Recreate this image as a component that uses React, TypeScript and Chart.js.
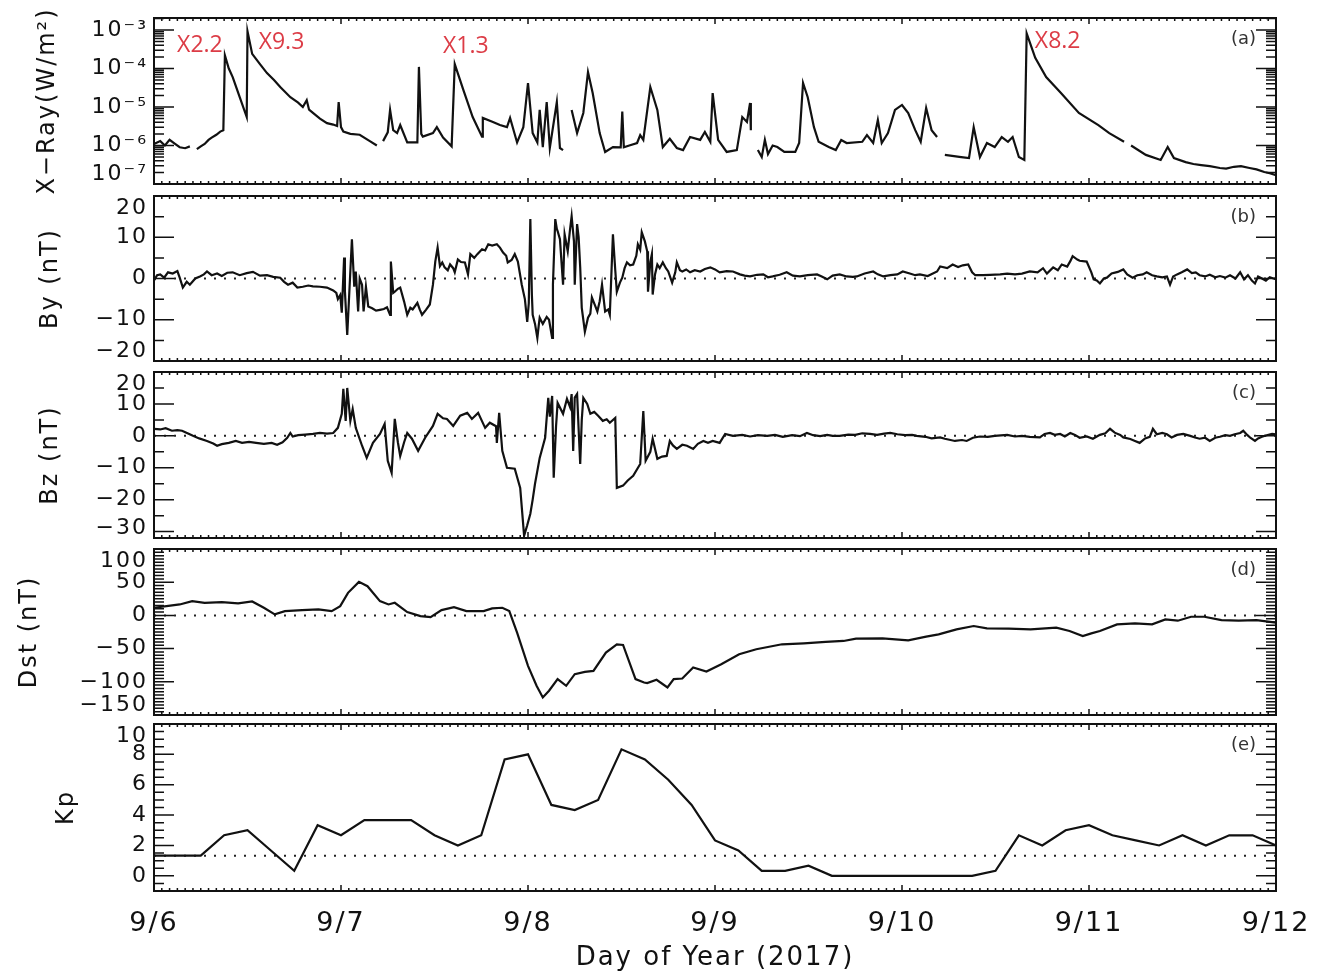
import React, { useEffect, useRef } from "react";
import { Chart, registerables } from "chart.js";

Chart.register(...registerables);

const W = 1318;
const H = 975;
const PLOT_LEFT = 154;
const PLOT_RIGHT = 1276;
const X_AXIS_HEIGHT = 84;
const FONT = "DejaVu Sans";
const INK = "#111111";
const FLARE_RED = "#dc3c46";

// Time axis: hours after 2017-09-06 00:00 UT
const dayHours = [0, 24, 48, 72, 96, 120, 144];
const dayLabels = ["9/6", "9/7", "9/8", "9/9", "9/10", "9/11", "9/12"];

// (a) GOES soft X-ray flux [hour, W/m^2]; null marks a data gap
const xrayFlux: [number, number | null][] = [
  [0, 1.1e-6], [0.8, 1.3e-6], [1.4, 1.0e-6], [2.0, 1.4e-6], [2.7, 1.1e-6], [3.3, 9.0e-7],
  [4.0, 8.5e-7], [4.6, 9.5e-7], [5.0, null],
  [5.5, 8.0e-7], [6.0, 9.5e-7], [6.5, 1.1e-6], [7.0, 1.4e-6], [7.4, 1.6e-6], [8.0, 1.9e-6],
  [8.5, 2.3e-6], [8.9, 2.5e-6], [9.1, 2.2e-4], [9.6, 1.0e-4], [10.1, 6.0e-5], [11.0, 1.8e-5],
  [11.9, 5.5e-6], [12.0, 9.3e-4], [12.6, 2.4e-4], [13.6, 1.3e-4], [14.5, 7.6e-5], [15.4, 5.0e-5],
  [16.2, 3.3e-5], [17.5, 1.8e-5], [18.5, 1.3e-5], [19.1, 1.0e-5], [19.6, 1.5e-5], [19.9, 8.5e-6],
  [20.4, 7.0e-6], [21.3, 5.0e-6], [22.2, 3.8e-6], [23.0, 3.5e-6], [23.5, 3.2e-6], [23.7, 1.35e-5],
  [24.0, 3.0e-6], [24.3, 2.3e-6], [25.2, 2.0e-6], [26.4, 1.9e-6], [27.7, 1.3e-6], [28.6, 1.0e-6],
  [29.0, null],
  [29.4, 1.3e-6], [30.0, 2.2e-6], [30.3, 8.4e-6], [30.7, 2.5e-6], [31.2, 2.1e-6], [31.6, 3.4e-6],
  [32.5, 1.2e-6], [33.8, 1.2e-6], [34.0, 1.1e-4], [34.3, 2.0e-6], [34.5, 1.7e-6], [35.8, 2.1e-6],
  [36.3, 3.0e-6], [37.1, 1.6e-6], [38.2, 9.5e-7], [38.6, 1.3e-4], [39.7, 2.8e-5], [40.9, 5.5e-6],
  [42.1, 1.7e-6], [42.2, 5.2e-6], [43.5, 4.1e-6], [44.4, 3.4e-6], [45.3, 3.0e-6], [45.7, 5.2e-6],
  [46.6, 1.2e-6], [47.4, 3.0e-6], [48.0, 4.2e-5], [48.6, 2.1e-6], [49.2, 1.2e-6], [49.5, 8.4e-6],
  [49.9, 9.0e-7], [50.4, 1.35e-5], [50.8, 8.6e-7], [51.7, 1.35e-5], [52.1, 8.6e-7], [52.5, 7.6e-7],
  [53.0, null],
  [53.6, 8.4e-6], [54.3, 2.1e-6], [55.1, 7.0e-6], [55.7, 8.1e-5], [56.3, 2.3e-5], [57.2, 2.1e-6],
  [57.9, 6.8e-7], [58.9, 9.1e-7], [59.9, 9.0e-7], [60.1, 7.6e-6], [60.3, 9.0e-7], [61.0, 1.0e-6],
  [62.0, 1.16e-6], [62.4, 1.87e-6], [62.8, 1.4e-6], [63.7, 3.3e-5], [64.6, 8.4e-6], [65.3, 9.1e-7],
  [66.2, 1.5e-6], [67.1, 8.6e-7], [67.9, 7.6e-7], [68.8, 1.66e-6], [70.1, 1.4e-6], [70.7, 2.24e-6],
  [71.4, 1.25e-6], [71.7, 2.3e-5], [72.4, 1.4e-6], [73.5, 6.8e-7], [74.8, 7.6e-7], [75.5, 5.5e-6],
  [76.1, 4.1e-6], [76.5, 1.27e-5], [76.6, 2.5e-6], [77.0, null],
  [77.5, 7.6e-7], [78.0, 5.0e-7], [78.4, 1.4e-6], [78.8, 6.0e-7], [79.4, 1.0e-6], [80.0, 9.1e-7],
  [80.9, 6.8e-7], [82.3, 6.8e-7], [82.8, 1.16e-6], [83.3, 4.2e-5], [83.9, 1.8e-5], [84.7, 3.0e-6],
  [85.3, 1.25e-6], [86.6, 9.1e-7], [87.5, 7.6e-7], [88.2, 1.39e-6], [88.9, 1.16e-6], [90.9, 1.25e-6],
  [91.5, 1.87e-6], [92.3, 1.16e-6], [92.9, 4.6e-6], [93.4, 1.16e-6], [94.2, 2.1e-6], [95.1, 8.4e-6],
  [96.0, 1.13e-5], [96.8, 7.0e-6], [97.7, 2.5e-6], [98.4, 1.25e-6], [99.1, 9.4e-6], [99.8, 2.5e-6],
  [100.5, 1.66e-6], [101.0, null],
  [101.5, 5.7e-7], [103.6, 5.0e-7], [104.6, 4.7e-7], [105.2, 3.0e-6], [106.0, 5.0e-7], [106.9, 1.16e-6],
  [107.9, 9.1e-7], [108.8, 1.66e-6], [109.6, 1.25e-6], [110.2, 1.66e-6], [111.0, 5.0e-7], [111.7, 4.2e-7],
  [112.0, 8.2e-4], [113.1, 1.9e-4], [114.5, 6.0e-5], [116.4, 2.3e-5], [118.7, 7.0e-6], [121.2, 3.4e-6],
  [122.6, 2.1e-6], [124.5, 1.25e-6], [125.0, null],
  [125.4, 1.0e-6], [127.3, 5.7e-7], [129.2, 4.2e-7], [130.1, 9.1e-7], [130.9, 4.7e-7], [132.4, 3.7e-7],
  [133.4, 3.3e-7], [134.4, 3.1e-7], [135.5, 2.9e-7], [136.8, 2.6e-7], [137.6, 2.5e-7], [138.6, 2.8e-7],
  [139.5, 2.9e-7], [140.6, 2.6e-7], [141.5, 2.4e-7], [142.5, 2.05e-7], [143.2, 1.9e-7], [144.0, 1.7e-7],
];

// Flare classes marked on panel (a)
const flareNames = ["X2.2", "X9.3", "X1.3", "X8.2"];
const flareHours = [9.1, 12.0, 38.6, 112.0];
const flareFlux = [2.2e-4, 9.3e-4, 1.3e-4, 8.2e-4];

// (b) IMF By [hour, nT]
const byField: [number, number][] = [
  [0, -0.5], [0.4, 0.8], [0.8, 1.0], [1.3, 0.2], [1.8, 1.5], [2.4, 1.2], [3.0, 1.8], [3.3, 0.2],
  [3.7, -2.2], [4.2, -0.8], [4.6, -1.5], [5.3, 0.0], [5.9, 0.5], [6.4, 1.0], [6.8, 1.7], [7.4, 0.8],
  [8.1, 1.2], [8.7, 0.6], [9.4, 1.4], [10.1, 1.5], [11.0, 0.8], [11.9, 1.3], [12.7, 1.6], [13.6, 0.7],
  [14.5, 0.8], [15.3, 0.4], [16.2, 0.2], [16.7, -0.8], [17.2, -1.5], [17.8, -1.0], [18.4, -2.2],
  [19.1, -2.0], [19.8, -1.7], [20.4, -1.9], [21.3, -2.0], [22.2, -2.2], [23.0, -2.9], [23.4, -3.5],
  [23.6, -5.0], [23.9, -4.0], [24.1, -8.3], [24.4, 5.1], [24.5, -3.0], [24.8, -13.7], [25.0, -6.0],
  [25.4, 9.5], [25.7, -2.0], [25.9, 1.7], [26.2, -8.0], [26.4, 0.0], [26.7, -1.5], [26.9, -8.0],
  [27.2, -2.0], [27.5, -6.8], [28.0, -7.2], [28.5, -7.8], [29.0, -7.6], [29.5, -7.4], [29.9, -7.0],
  [30.3, -8.8], [30.4, 4.1], [30.7, -3.5], [30.9, -3.2], [31.3, -2.5], [31.6, -2.2], [32.1, -5.6],
  [32.5, -8.8], [32.9, -7.1], [33.2, -7.5], [33.8, -5.9], [34.1, -7.5], [34.4, -8.8], [34.9, -7.6],
  [35.4, -6.3], [35.8, -1.5], [36.1, 4.1], [36.4, 7.5], [36.7, 3.0], [37.0, 3.9], [37.3, 2.7],
  [37.7, 2.0], [38.0, 3.4], [38.4, 2.5], [38.6, 1.5], [39.0, 4.6], [39.4, 4.0], [39.9, 3.9],
  [40.3, 1.0], [40.6, 5.9], [41.1, 5.0], [41.5, 5.9], [42.1, 7.1], [42.5, 6.8], [42.9, 8.3],
  [43.4, 8.0], [44.0, 8.3], [44.4, 7.5], [44.8, 6.3], [45.2, 5.5], [45.4, 3.9], [45.9, 4.5],
  [46.3, 5.9], [46.7, 4.1], [47.2, -1.5], [47.6, -5.0], [47.9, -10.5], [48.1, -6.0], [48.3, 14.4],
  [48.5, -4.0], [48.6, -8.8], [48.9, -11.0], [49.2, -14.4], [49.4, -11.0], [49.5, -9.5], [49.9, -11.0],
  [50.4, -9.3], [50.7, -10.0], [51.1, -14.4], [51.2, -1.5], [51.5, 14.4], [51.7, 12.0], [51.8, 11.5],
  [52.1, 9.5], [52.5, -1.5], [52.7, 10.7], [53.1, 6.6], [53.4, 12.0], [53.6, 15.1], [53.9, 9.0],
  [54.0, -1.5], [54.3, 13.2], [54.5, 10.0], [54.7, 2.7], [54.9, -7.1], [55.3, -12.9], [55.7, -9.5],
  [56.0, -8.5], [56.2, -4.6], [56.6, -6.5], [56.9, -8.0], [57.2, -5.5], [57.5, -1.5], [57.9, -8.0],
  [58.3, -7.5], [58.5, -8.8], [58.9, 10.7], [59.2, 2.0], [59.4, -3.2], [59.8, -1.0], [60.1, 0.2],
  [60.4, 2.5], [60.7, 3.9], [61.1, 3.2], [61.5, 3.4], [61.9, 5.5], [62.1, 8.3], [62.4, 7.0],
  [62.6, 11.2], [63.0, 9.0], [63.3, 6.6], [63.4, -3.2], [63.7, 4.0], [63.9, 5.9], [64.0, -3.9],
  [64.3, 1.0], [64.6, 3.4], [64.9, 2.5], [65.3, 3.9], [65.7, 2.5], [66.0, 1.7], [66.5, -1.0],
  [66.9, 1.5], [67.1, 3.9], [67.5, 2.0], [67.8, 1.7], [68.3, 2.2], [68.8, 1.5], [69.4, 2.0],
  [70.1, 1.7], [70.7, 2.3], [71.4, 2.7], [72.0, 2.2], [72.6, 1.5], [73.5, 1.8], [74.3, 1.7],
  [75.2, 1.0], [75.8, 0.7], [76.5, 0.5], [77.4, 0.9], [78.2, 1.0], [78.8, 0.3], [79.4, 0.5],
  [80.3, 0.9], [81.2, 1.5], [82.0, 0.7], [82.9, 0.5], [83.9, 0.8], [85.1, 1.0], [85.7, 0.5],
  [86.4, -0.2], [87.1, 0.7], [88.0, 1.0], [88.9, 0.5], [89.7, 0.4], [90.2, 0.5], [91.2, 1.2],
  [92.3, 1.7], [92.9, 1.0], [93.6, 0.5], [94.5, 0.8], [95.4, 1.0], [96.1, 1.7], [97.0, 1.2],
  [97.7, 0.8], [98.3, 1.0], [99.3, 0.6], [100.5, 1.7], [100.9, 2.9], [101.8, 2.5], [102.5, 3.4],
  [103.2, 2.8], [103.8, 3.2], [104.5, 3.4], [105.0, 1.5], [105.4, 0.8], [106.4, 0.8], [107.3, 0.9],
  [108.6, 1.0], [109.5, 1.2], [110.5, 1.0], [111.4, 1.2], [112.4, 1.7], [113.4, 1.5], [114.1, 2.5],
  [114.6, 1.2], [115.4, 2.7], [116.0, 2.0], [116.5, 3.4], [117.2, 2.9], [117.6, 4.2], [117.9, 5.4],
  [118.5, 4.6], [118.8, 4.3], [119.7, 4.1], [120.3, 1.5], [120.6, -0.2], [121.0, -0.5], [121.4, -1.2],
  [121.9, 0.0], [122.3, 0.2], [122.9, 1.2], [123.7, 1.6], [124.4, 2.2], [124.9, 1.0], [125.6, 0.2],
  [126.2, 0.8], [126.9, 1.0], [127.4, 1.5], [128.1, 0.8], [128.7, 0.5], [129.4, 0.3], [130.0, 0.5],
  [130.4, -1.5], [130.8, 0.5], [131.3, 1.0], [131.9, 1.5], [132.6, 2.2], [133.2, 1.3], [133.7, 1.5],
  [134.2, 0.8], [134.9, 0.5], [135.5, 0.9], [136.2, 0.3], [136.8, 0.6], [137.5, 0.2], [138.1, 0.8],
  [138.8, 0.0], [139.4, 1.5], [139.9, -0.2], [140.4, 0.8], [140.9, -0.5], [141.3, -1.2], [141.7, 0.5],
  [142.2, 0.0], [142.7, -0.5], [143.2, 0.3], [144.0, -0.2],
];

// (c) IMF Bz [hour, nT]
const bzField: [number, number][] = [
  [0, 2.2], [0.8, 2.0], [1.5, 2.4], [2.3, 1.6], [3.0, 1.8], [3.6, 1.6], [4.3, 0.8], [5.0, 0.0],
  [5.8, -0.8], [6.8, -1.6], [7.6, -2.4], [8.1, -3.1], [8.7, -2.6], [9.6, -2.2], [10.5, -1.6],
  [11.3, -2.2], [12.2, -1.9], [13.1, -2.2], [14.1, -2.5], [15.1, -2.2], [15.8, -2.8], [16.5, -2.0],
  [17.1, -0.6], [17.5, 0.9], [17.8, -0.2], [18.5, 0.2], [19.4, 0.4], [20.4, 0.6], [21.3, 0.9],
  [22.2, 0.7], [23.0, 0.9], [23.6, 2.5], [24.1, 6.9], [24.3, 14.7], [24.6, 4.7], [24.8, 15.0],
  [25.2, 4.7], [25.5, 8.4], [25.9, 2.5], [26.7, -3.1], [27.3, -6.9], [28.1, -2.2], [29.0, 0.6],
  [29.6, 3.7], [30.0, -7.8], [30.5, -11.6], [30.9, 5.3], [31.3, -2.0], [31.6, -6.3], [32.1, -2.0],
  [32.5, 0.9], [33.1, -0.9], [33.9, -4.7], [34.8, -0.6], [35.8, 3.1], [36.4, 6.9], [37.1, 5.5],
  [37.6, 5.3], [38.4, 3.1], [39.3, 6.3], [40.2, 7.2], [40.8, 5.3], [41.6, 7.2], [42.5, 2.5],
  [43.1, 4.1], [43.9, 3.0], [44.0, -2.2], [44.3, 7.2], [44.7, -4.7], [45.3, -10.0], [46.3, -10.3],
  [47.0, -16.3], [47.5, -31.3], [47.9, -28.0], [48.3, -24.4], [48.6, -20.0], [48.9, -15.0],
  [49.5, -6.9], [50.2, -0.6], [50.6, 11.9], [50.8, 6.0], [51.1, 12.5], [51.3, -13.1], [51.6, 3.0],
  [51.8, 10.3], [52.5, 6.9], [53.0, 11.6], [53.4, 9.0], [53.6, 13.1], [53.8, -4.7], [54.0, 12.0],
  [54.3, 13.1], [54.5, 2.0], [54.7, -8.8], [54.9, 5.0], [55.1, 11.9], [55.6, 10.0], [56.0, 6.9],
  [56.5, 7.5], [57.0, 6.3], [57.6, 4.7], [58.1, 5.2], [58.5, 4.1], [59.2, 5.6], [59.4, -16.3],
  [60.2, -15.6], [60.8, -14.0], [61.5, -12.5], [62.4, -8.8], [62.8, 7.8], [63.1, -7.8], [63.7, -5.0],
  [64.0, -0.9], [64.6, -7.2], [65.2, -6.5], [65.8, -6.3], [66.2, -1.6], [66.6, -3.0], [67.1, -4.1],
  [67.8, -2.8], [68.4, -3.1], [69.2, -4.1], [69.8, -2.5], [70.5, -1.6], [71.1, -2.2], [71.7, -1.6],
  [72.6, -2.2], [73.3, 0.6], [74.3, 0.0], [75.5, 0.3], [76.5, -0.2], [77.5, 0.2], [78.7, 0.0],
  [79.7, 0.3], [80.7, -0.3], [81.9, 0.2], [82.9, -0.1], [83.8, 0.9], [84.6, 0.2], [85.5, -0.1],
  [86.4, 0.3], [87.1, 0.0], [88.0, 0.0], [89.1, 0.4], [90.0, 0.3], [90.9, 0.8], [91.9, 0.6],
  [92.8, 0.3], [93.7, 0.7], [94.5, 0.9], [95.4, 0.5], [96.4, 0.2], [97.3, 0.3], [97.9, 0.0],
  [99.0, -0.3], [99.8, -0.8], [100.9, -0.5], [101.5, -0.9], [102.8, -1.6], [103.7, -1.3], [104.3, -1.6],
  [105.1, -0.6], [106.0, -0.2], [107.0, -0.3], [107.9, 0.0], [109.5, 0.3], [110.5, -0.2], [111.4, 0.0],
  [112.4, -0.3], [113.7, -0.5], [114.3, 0.6], [115.0, 0.9], [115.6, 0.3], [116.3, 0.6], [116.9, -0.2],
  [117.6, 0.9], [118.2, 0.3], [118.8, -0.6], [119.7, -0.2], [120.5, -0.9], [121.4, 0.3], [122.1, 0.8],
  [122.7, 2.2], [123.3, 1.0], [124.0, 0.3], [124.4, -0.5], [125.3, -1.0], [125.9, -1.6], [126.5, -2.2],
  [127.2, -0.8], [127.8, -0.3], [128.2, 2.2], [128.7, 0.5], [129.4, 0.9], [130.0, 0.5], [130.6, -0.5],
  [131.3, 0.3], [132.1, 0.6], [133.0, 0.0], [133.6, -0.5], [134.2, -0.9], [134.9, -0.6], [135.5, -1.6],
  [136.2, -0.6], [136.8, -0.3], [137.5, 0.2], [138.1, 0.0], [138.7, 0.5], [139.4, 0.9], [139.8, 1.6],
  [140.3, 0.3], [140.7, -0.6], [141.3, -1.6], [141.7, -0.8], [142.2, -0.3], [142.8, 0.2], [143.5, 0.6],
  [144.0, 0.5],
];

// (d) Dst index [hour, nT]
const dstIndex: [number, number][] = [
  [0, 11.5], [1.6, 14], [3.3, 16.5], [4.9, 21.5], [6.5, 19], [8.7, 20], [10.8, 18], [12.6, 21],
  [14.1, 11.5], [15.5, 1.5], [16.8, 6.5], [19.0, 8], [21.1, 9], [22.8, 6.5], [23.9, 14], [24.9, 34],
  [26.3, 50.5], [27.4, 44], [29.0, 21.5], [30.1, 16.5], [30.9, 19], [32.5, 5], [34.2, -1], [35.5, -2.5],
  [36.9, 8], [38.5, 12.5], [40.1, 6.5], [42.3, 6.5], [43.4, 10.5], [44.7, 11.5], [45.6, 6.5],
  [46.6, -26], [48.0, -76], [49.1, -106], [49.9, -123.5], [50.7, -113.5], [51.8, -96], [52.9, -106],
  [54.0, -88.5], [55.3, -85], [56.4, -83.5], [58.0, -56], [59.4, -43.5], [60.2, -44.5], [61.8, -96],
  [62.9, -101], [63.3, -102], [64.5, -97], [65.9, -108.5], [66.7, -96], [67.8, -95], [69.2, -78.5],
  [70.9, -84.5], [72.8, -73.5], [75.1, -58.5], [77.3, -51], [80.6, -43.5], [83.4, -42], [86.2, -40],
  [88.5, -38.5], [90.1, -35], [93.5, -34.5], [96.8, -37.5], [99.1, -32], [100.7, -28.5], [103.0, -21],
  [105.2, -16], [106.9, -19.5], [109.7, -20], [112.5, -21], [115.8, -18.5], [117.5, -23.5], [119.2, -31],
  [120.3, -27], [121.4, -23.5], [123.6, -13.5], [125.9, -12], [128.1, -13.5], [129.8, -6], [131.4, -8],
  [133.1, -2], [134.8, -2], [137.0, -7], [139.2, -8], [141.5, -7], [144.0, -11],
];

// (e) 3-hourly Kp index [hour, Kp]
const kpIndex: [number, number][] = [
  [0, 1.33], [3, 1.33], [6, 1.33], [9, 2.67], [12, 3.0], [15, 1.67], [18, 0.33], [21, 3.33],
  [24, 2.67], [27, 3.67], [30, 3.67], [33, 3.67], [36, 2.67], [39, 2.0], [42, 2.67], [45, 7.67],
  [48, 8.0], [51, 4.67], [54, 4.33], [57, 5.0], [60, 8.33], [63, 7.67], [66, 6.33], [69, 4.67],
  [72, 2.33], [75, 1.67], [78, 0.33], [81, 0.33], [84, 0.67], [87, 0.0], [90, 0.0], [93, 0.0],
  [96, 0.0], [99, 0.0], [102, 0.0], [105, 0.0], [108, 0.33], [111, 2.67], [114, 2.0], [117, 3.0],
  [120, 3.33], [123, 2.67], [126, 2.33], [129, 2.0], [132, 2.67], [135, 2.0], [138, 2.67], [141, 2.67],
  [144, 2.0],
];
const kpReference = 1.33;

// Axis tick values and labels
const xrayTickValues = [1e-7, 1e-6, 1e-5, 1e-4, 1e-3];
const xrayTickLabels = ["10\u207B\u2077", "10\u207B\u2076", "10\u207B\u2075", "10\u207B\u2074", "10\u207B\u00B3"];
const byTicks = [-20, -10, 0, 10, 20];
const bzTicks = [-30, -20, -10, 0, 10, 20];
const dstTicks = [-150, -100, -50, 0, 50, 100];
const kpTicks = [0, 2, 4, 6, 8, 10];

// Flare label placement relative to each peak, in pixels
const flareLabelOffsets: [number, number][] = [[-25, -10], [34, 11], [11, -18], [31, 8]];

function steps(from: number, to: number, step: number) {
  const out: number[] = [];
  for (let v = from; v <= to + 1e-9; v += step) out.push(+v.toFixed(6));
  return out;
}

function logMinorTicks(maxValue: number) {
  const out: number[] = [];
  for (let e = -7; e <= -3; e++) {
    for (let k = 2; k <= 9; k++) {
      const v = k * Math.pow(10, e);
      if (v <= maxValue) out.push(v);
    }
  }
  return out;
}

function signed(v: number) {
  return v < 0 ? "\u2212" + Math.abs(v) : String(v);
}

function series(points: [number, number | null][]) {
  return {
    data: points.map(([x, y]) => ({ x, y })),
    borderColor: INK,
    borderWidth: 2.2,
    pointRadius: 0,
    tension: 0,
    spanGaps: false,
  };
}

function referenceLine(level: number) {
  return {
    data: [{ x: 0, y: level }, { x: 144, y: level }],
    borderColor: "#222222",
    borderWidth: 2,
    borderDash: [2, 8],
    pointRadius: 0,
  };
}

// Frame, inward ticks on all four sides and the panel tag
function panelDecor(tag: string, majors: number[], minors: number[], extra?: (chart: any) => void) {
  return {
    id: "panelDecor",
    beforeDraw(chart: any) {
      chart.ctx.letterSpacing = "2px";
      // keep the end labels of the value axis inside the frame height
      const a = chart.chartArea;
      const items = chart.scales.y.getLabelItems(a);
      items.forEach((it: any) => {
        const t = it.options.translation;
        if (t[1] < a.top + 9) t[1] = a.top + 12;
        else if (t[1] > a.bottom - 9) t[1] = a.bottom - 10;
      });
    },
    afterDraw(chart: any) {
      const ctx = chart.ctx;
      const a = chart.chartArea;
      const xs = chart.scales.x;
      const ys = chart.scales.y;
      ctx.save();
      ctx.letterSpacing = "0px";
      ctx.strokeStyle = INK;
      ctx.lineWidth = 1.5;
      ctx.beginPath();
      const yTick = (v: number, len: number) => {
        const py = ys.getPixelForValue(v);
        if (py < a.top - 0.5 || py > a.bottom + 0.5) return;
        ctx.moveTo(a.left, py);
        ctx.lineTo(a.left + len, py);
        ctx.moveTo(a.right, py);
        ctx.lineTo(a.right - len, py);
      };
      majors.forEach((v) => yTick(v, 20));
      minors.forEach((v) => yTick(v, 10));
      for (let h = 0; h <= 144; h += 1) {
        const px = xs.getPixelForValue(h);
        const len = h % 24 === 0 ? 6 : 3;
        ctx.moveTo(px, a.top);
        ctx.lineTo(px, a.top + len);
        ctx.moveTo(px, a.bottom);
        ctx.lineTo(px, a.bottom - len);
      }
      ctx.stroke();
      ctx.lineWidth = 2;
      ctx.strokeRect(a.left, a.top, a.right - a.left, a.bottom - a.top);
      ctx.font = `18px "${FONT}"`;
      ctx.fillStyle = "#333333";
      ctx.textAlign = "right";
      ctx.textBaseline = "middle";
      ctx.fillText(tag, a.right - 20, a.top + 21);
      if (extra) extra(chart);
      ctx.restore();
    },
  };
}

function drawFlareLabels(chart: any) {
  const ctx = chart.ctx;
  const xs = chart.scales.x;
  const ys = chart.scales.y;
  ctx.font = `23px "Open Sans"`;
  ctx.fillStyle = FLARE_RED;
  ctx.textAlign = "center";
  ctx.textBaseline = "middle";
  flareNames.forEach((name, i) => {
    const [dx, dy] = flareLabelOffsets[i];
    ctx.fillText(name, xs.getPixelForValue(flareHours[i]) + dx, ys.getPixelForValue(flareFlux[i]) + dy);
  });
}

function xScale(show: boolean) {
  return {
    type: "linear",
    min: 0,
    max: 144,
    display: show,
    afterBuildTicks: (s: any) => {
      s.ticks = dayHours.map((v) => ({ value: v }));
    },
    afterFit: show
      ? (s: any) => {
          s.height = X_AXIS_HEIGHT;
          s.paddingLeft = 0;
          s.paddingRight = 0;
        }
      : undefined,
    ticks: {
      font: { family: FONT, size: 27 },
      color: INK,
      padding: 17,
      autoSkip: false,
      maxRotation: 0,
      callback: (_v: any, i: number) => dayLabels[i],
    },
    grid: { display: false, drawTicks: false },
    border: { display: false },
    title: {
      display: true,
      text: "Day of Year (2017)",
      font: { family: FONT, size: 26 },
      color: INK,
      padding: { top: 0, bottom: 1 },
    },
  };
}

function yScale(o: {
  log?: boolean;
  min: number;
  max: number;
  ticks: number[];
  format: (v: number) => string;
  title: string;
  titlePad: number;
}) {
  return {
    type: o.log ? "logarithmic" : "linear",
    min: o.min,
    max: o.max,
    bounds: "data",
    afterFit: (s: any) => {
      s.width = PLOT_LEFT;
      s.paddingTop = 0;
      s.paddingBottom = 0;
    },
    afterBuildTicks: (s: any) => {
      s.ticks = o.ticks.map((v) => ({ value: v }));
    },
    ticks: {
      font: { family: FONT, size: 22 },
      color: INK,
      padding: 6,
      autoSkip: false,
      callback: (v: any) => o.format(Number(v)),
    },
    grid: { display: false, drawTicks: false },
    border: { display: false },
    title: {
      display: true,
      text: o.title,
      font: { family: FONT, size: 24 },
      color: INK,
      padding: { top: o.titlePad, bottom: 0 },
    },
  };
}

const XRAY_MAX = 2.05e-3;

function xrayLabel(v: number) {
  const i = xrayTickValues.findIndex((t) => Math.abs(Math.log10(t) - Math.log10(v)) < 1e-6);
  return i >= 0 ? xrayTickLabels[i] : "";
}

const panelDefs = [
  {
    top: 18,
    bottom: 184,
    showX: false,
    datasets: [series(xrayFlux)],
    y: yScale({ log: true, min: 1e-7, max: XRAY_MAX, ticks: xrayTickValues, format: xrayLabel, title: "X\u2212Ray(W/m\u00B2)", titlePad: 33 }),
    decor: panelDecor("(a)", xrayTickValues, logMinorTicks(XRAY_MAX), drawFlareLabels),
  },
  {
    top: 196,
    bottom: 361,
    showX: false,
    datasets: [series(byField), referenceLine(0)],
    y: yScale({ min: -20, max: 20, ticks: byTicks, format: signed, title: "By (nT)", titlePad: 36 }),
    decor: panelDecor("(b)", byTicks, steps(-15, 15, 10)),
  },
  {
    top: 372,
    bottom: 538,
    showX: false,
    datasets: [series(bzField), referenceLine(0)],
    y: yScale({ min: -32, max: 20, ticks: bzTicks, format: signed, title: "Bz (nT)", titlePad: 36 }),
    decor: panelDecor("(c)", bzTicks, steps(-25, 15, 10)),
  },
  {
    top: 549,
    bottom: 715,
    showX: false,
    datasets: [series(dstIndex), referenceLine(0)],
    y: yScale({ min: -150, max: 100, ticks: dstTicks, format: signed, title: "Dst (nT)", titlePad: 15 }),
    decor: panelDecor("(d)", dstTicks, steps(-145, 95, 5).filter((v) => v % 50 !== 0)),
  },
  {
    top: 724,
    bottom: 891,
    showX: true,
    datasets: [series(kpIndex), referenceLine(kpReference)],
    y: yScale({ min: -1, max: 10, ticks: kpTicks, format: signed, title: "Kp", titlePad: 52 }),
    decor: panelDecor("(e)", kpTicks, steps(-0.5, 9.5, 0.5).filter((v) => v % 2 !== 0)),
  },
];

function buildChart(canvas: HTMLCanvasElement, p: any) {
  return new Chart(canvas, {
    type: "line",
    data: { datasets: p.datasets },
    options: {
      animation: false,
      responsive: false,
      events: [],
      layout: {
        padding: {
          top: p.top,
          bottom: H - p.bottom - (p.showX ? X_AXIS_HEIGHT : 0),
          left: 0,
          right: W - PLOT_RIGHT,
        },
      },
      plugins: { legend: { display: false }, tooltip: { enabled: false } },
      scales: { x: xScale(p.showX), y: p.y },
    } as any,
    plugins: [p.decor as any],
  });
}

export default function App() {
  const canvases = useRef<(HTMLCanvasElement | null)[]>([]);

  useEffect(() => {
    const charts = panelDefs.map((p, i) => buildChart(canvases.current[i] as HTMLCanvasElement, p));
    return () => charts.forEach((c) => c.destroy());
  }, []);

  return (
    <div style={{ position: "absolute", left: 0, top: 0, width: W, height: H, background: "#ffffff", overflow: "hidden" }}>
      {panelDefs.map((_, i) => (
        <canvas
          key={i}
          ref={(el) => {
            canvases.current[i] = el;
          }}
          width={W}
          height={H}
          style={{ position: "absolute", left: 0, top: 0 }}
        />
      ))}
    </div>
  );
}
